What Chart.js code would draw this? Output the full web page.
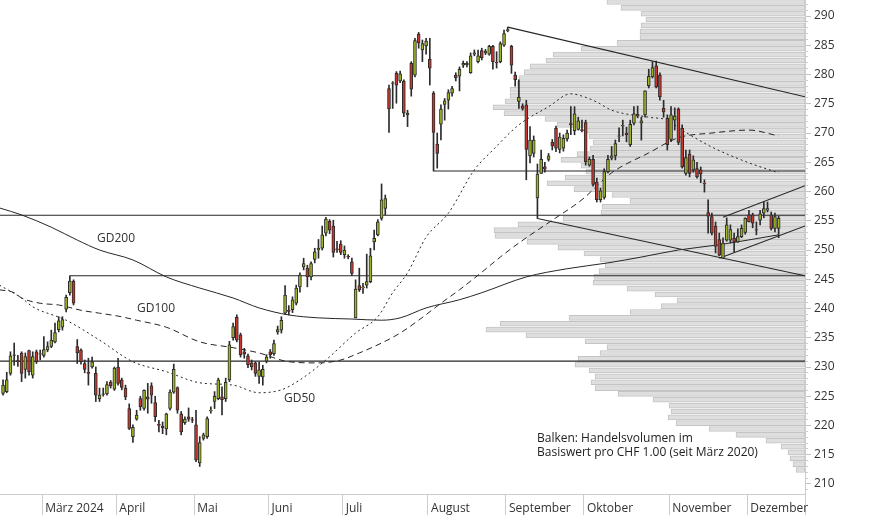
<!DOCTYPE html>
<html><head><meta charset="utf-8">
<script src="https://cdn.jsdelivr.net/npm/chart.js@4.4.1/dist/chart.umd.min.js"></script>
<style>
html,body{margin:0;padding:0;background:#fff;}
#wrap{position:relative;width:874px;height:515px;overflow:hidden;}
#c{position:absolute;left:0;top:0;}
.lbl{position:absolute;font-family:"Open Sans",sans-serif;font-size:12px;color:#333;line-height:14px;white-space:nowrap;}
</style></head><body>
<div id="wrap">
<canvas id="c" width="874" height="515"></canvas>
<div class="lbl" style="left:97px;top:231px">GD200</div>
<div class="lbl" style="left:137px;top:301px">GD100</div>
<div class="lbl" style="left:284px;top:391px">GD50</div>
<div class="lbl" style="left:537px;top:431px;color:#222">Balken: Handelsvolumen im<br>Basiswert pro CHF 1.00 (seit März 2020)</div>
</div>
<script>
// ---- data: trading-day index of first candle (0 = 1 March 2024) ----
const firstIndex = -11;
const opens = [
225.5,225.8,228.9,232.1,231.1,232.4,229.6,232.8,228.6,232.6,
232.2,232.0,232.9,233.5,234.3,236.4,236.8,239.9,242.7,244.7,
233.5,232.9,230.6,229.1,230.0,228.9,224.6,225.4,225.4,227.4,
226.2,230.0,227.8,226.4,222.9,218.1,221.1,224.6,222.9,224.9,
226.8,223.9,220.2,219.9,219.4,222.9,225.7,226.5,222.0,220.5,
221.5,221.0,220.1,213.6,217.8,218.1,222.5,224.1,224.6,224.9,
224.6,227.8,235.0,238.5,235.5,232.6,231.9,230.7,230.7,228.4,
228.3,231.0,232.6,232.3,236.0,236.3,239.2,239.7,239.8,240.9,
243.7,247.1,246.9,245.4,248.4,250.0,250.3,252.9,254.9,254.1,
250.2,251.0,249.2,248.9,248.0,238.4,243.9,243.5,244.0,244.6,
251.4,252.6,255.4,257.1,277.6,278.5,280.2,278.9,278.9,273.1,
281.9,279.9,286.9,284.2,284.9,282.6,276.8,268.1,271.5,274.9,
275.6,276.8,279.9,279.7,281.6,281.9,280.3,283.5,282.2,284.1,
283.7,283.5,284.8,282.1,282.2,285.0,287.5,284.8,279.9,275.4,
274.6,274.8,266.1,266.5,258.9,263.1,264.2,265.5,268.4,270.8,
267.2,267.4,269.0,271.6,270.4,270.6,270.6,271.8,264.5,265.5,
261.6,258.6,259.0,263.4,265.7,266.1,269.4,271.2,270.0,268.0,
271.7,273.2,271.7,273.1,278.1,279.6,281.5,279.9,274.2,272.5,
268.9,272.2,274.1,270.8,263.1,266.4,263.7,263.9,263.7,261.4,
256.4,255.7,254.1,251.8,248.6,251.7,251.7,252.0,251.4,252.3,
253.0,256.0,256.0,253.5,255.1,256.3,256.8,256.0,253.7,253.7];
const highs = [
227.8,229.1,232.6,234.1,232.0,232.6,232.4,232.9,232.6,232.9,
232.9,235.2,234.3,236.3,237.5,238.6,238.6,242.3,245.6,244.9,
234.7,233.1,231.2,231.5,231.7,230.0,226.4,226.4,227.5,227.7,
230.0,231.5,228.1,226.9,223.7,220.1,222.6,225.0,226.1,227.2,
227.3,225.0,220.9,220.6,222.1,226.1,230.5,226.6,222.4,221.5,
223.0,221.4,222.6,218.1,218.7,221.5,223.2,225.8,228.1,226.6,
228.1,234.4,237.5,238.9,235.8,233.2,232.2,231.2,230.9,230.9,
230.3,232.1,233.0,234.6,237.0,238.6,243.9,240.5,242.0,244.0,
246.1,248.6,247.4,248.0,250.3,251.8,254.1,255.6,255.2,255.1,
251.5,251.6,250.7,249.2,248.6,244.9,246.9,244.3,249.3,250.3,
253.4,255.2,261.3,259.4,278.2,278.8,280.5,280.6,279.1,273.9,
282.2,286.2,287.2,285.9,286.2,286.2,277.1,270.0,274.8,275.9,
277.4,278.0,280.3,281.3,282.3,282.2,283.7,284.2,284.2,284.5,
284.3,285.0,285.0,283.9,285.6,287.6,288.1,285.0,280.4,279.1,
275.0,275.6,271.1,269.5,264.7,267.1,265.0,266.5,268.9,271.2,
270.0,269.7,270.5,274.5,274.5,272.7,272.2,272.2,265.9,266.2,
262.3,260.6,263.9,266.2,267.7,268.8,270.9,272.2,271.0,272.2,
274.5,274.6,272.7,277.2,280.9,282.2,282.3,280.3,275.6,273.1,
274.5,274.3,274.3,271.4,267.1,267.1,266.1,265.0,264.2,262.0,
258.6,256.3,254.8,252.9,252.1,255.5,254.3,252.9,253.6,254.3,
255.5,256.8,256.3,254.8,256.8,258.2,258.2,256.5,256.3,255.8];
const lows = [
225.2,225.6,228.6,230.3,230.1,227.5,228.1,228.6,228.1,230.6,
231.2,231.7,232.6,233.3,234.1,236.0,236.3,239.4,242.3,240.6,
230.6,230.5,229.0,226.9,229.8,224.1,224.1,225.0,225.2,226.4,
226.0,226.9,226.1,224.4,219.3,217.1,220.9,222.6,222.6,222.1,
223.8,220.7,218.9,218.6,218.4,222.6,225.5,222.1,218.4,220.2,
220.7,220.5,213.8,213.0,217.5,217.8,222.1,222.9,224.4,221.8,
224.1,227.5,234.6,234.3,231.7,231.5,229.9,229.5,228.4,227.2,
226.9,230.7,231.5,232.0,235.6,235.8,239.0,238.9,239.3,240.6,
242.8,246.6,243.7,244.9,247.8,248.6,250.0,252.4,252.8,248.8,
249.6,249.2,248.6,248.5,245.6,238.4,242.9,242.6,243.5,244.4,
250.0,252.4,255.1,256.0,270.1,274.2,275.1,278.6,272.8,271.1,
276.3,279.6,284.5,282.2,283.5,278.2,263.5,264.0,268.8,272.2,
274.1,276.3,278.9,277.2,281.2,281.3,280.2,283.2,282.0,282.5,
283.4,283.3,280.9,281.1,282.0,284.8,287.3,280.2,278.0,274.2,
273.9,262.0,264.9,265.9,255.4,263.1,263.3,265.2,267.1,266.8,
266.6,266.9,268.6,269.7,269.7,270.5,270.2,264.5,264.3,260.9,
258.2,258.2,258.7,263.2,265.4,265.4,268.5,269.5,268.5,267.7,
271.4,272.6,268.8,272.7,277.7,279.4,277.7,275.6,272.7,267.1,
268.5,270.5,268.0,264.0,262.8,262.5,263.3,262.3,261.5,259.9,
252.9,252.6,249.5,249.0,248.6,251.5,251.2,249.7,251.3,252.1,
252.7,254.8,253.8,252.6,254.3,255.5,256.5,253.4,253.1,252.1];
const closes = [
226.9,227.8,231.9,232.0,230.9,228.9,231.8,229.2,231.8,230.9,
232.3,233.0,233.5,234.6,235.9,237.9,238.1,241.9,244.7,240.9,
232.4,230.9,229.6,228.9,230.9,225.2,225.2,225.3,227.0,226.8,
229.8,227.2,226.5,224.9,219.5,219.7,221.8,223.2,226.0,224.5,
225.2,221.5,220.0,219.6,222.0,225.7,229.6,222.6,218.9,221.1,
221.1,220.9,214.1,217.1,218.4,221.2,222.6,225.0,227.8,224.4,
227.4,233.8,236.9,234.6,232.1,232.2,230.4,230.0,228.9,229.5,
229.6,231.7,232.1,234.0,236.4,238.0,242.3,239.5,241.5,243.5,
245.7,247.7,245.4,247.7,249.7,250.3,252.6,255.3,253.4,249.6,
250.0,249.6,250.0,248.8,246.0,243.3,243.2,243.7,244.6,249.0,
252.0,254.8,258.6,258.8,274.1,278.6,278.2,280.1,273.4,273.4,
277.5,285.8,285.4,285.3,285.7,281.1,270.1,266.5,274.1,275.5,
276.9,277.6,279.4,280.9,281.9,281.7,283.2,283.7,283.2,282.9,
284.0,284.8,282.2,282.0,285.3,287.0,287.7,281.6,279.1,276.1,
274.2,267.2,268.8,268.8,263.0,265.5,263.8,266.1,267.8,267.4,
269.3,269.1,270.0,271.4,273.3,272.1,270.4,265.1,265.5,261.2,
258.6,260.1,263.4,265.5,266.1,268.2,269.5,271.3,269.7,271.5,
273.3,272.9,272.1,277.2,279.7,281.2,277.9,276.2,273.6,268.0,
273.1,272.9,268.4,264.2,265.8,263.1,265.4,262.5,263.0,261.3,
255.8,252.9,250.6,249.1,251.2,254.3,253.5,251.4,252.3,253.7,
255.4,254.8,254.6,253.4,256.2,257.1,257.1,253.7,255.7,255.4];

// moving averages (trading-day index, value)
const gd50Idx = [-12,-6,-3,6,15,24,33,42,51,58,64,69,76,84,90,94,98,103,109,116,121,128,136,142,144,149,153,163,168,172,180,190,198];
const gd50Val = [244.0,241.8,240.3,238.0,234.6,230.9,229.2,227.3,226.9,225.6,226.1,227.8,231.2,235.8,238.6,242.7,246.1,252.2,256.3,263.7,267.1,271.4,274.5,276.7,276.5,275.3,273.9,272.7,272.2,270.5,267.6,264.9,263.2];
const gd100Idx = [-12,-8,-6,-1,4,10,15,20,25,33,42,51,58,66,74,80,85,91,96,101,107,112,118,123,128,137,145,153,163,171,180,190,198];
const gd100Val = [243.2,242.7,241.8,240.9,240.6,239.7,239.2,238.7,238.0,236.8,234.3,233.3,232.4,230.9,230.7,231.2,232.4,234.1,235.8,238.0,240.9,243.2,246.2,248.8,251.2,255.1,258.6,263.2,266.6,269.2,270.0,270.5,269.5];
const gd200Idx = [-12,-6,2,9,15,24,33,42,51,58,66,74,83,91,96,103,112,118,130,141,152,161,171,182,198];
const gd200Val = [257.2,256.0,253.9,251.7,250.0,248.3,245.4,243.5,241.8,240.1,238.9,238.4,238.2,238.0,238.4,240.1,241.5,242.7,245.4,246.8,247.8,248.8,250.0,250.9,252.6];

// horizontal support / resistance levels and the day they start
const levelValues = [255.95, 245.6, 231.0, 263.5];
const levelStart  = [-12, 7, -12, 105];
// trend lines: start day, start value, value at right edge
const trendStart    = [125, 133, 183, 182];
const trendStartVal = [288.1, 255.4, 255.6, 248.6];
const trendEndVal   = [276.2, 245.6, 261.0, 254.1];

// volume profile: price bucket (CHF 1.00) and relative volume
const volLevels = [292,291,290,289,288,287,286,285,284,283,282,281,280,279,278,277,276,275,274,273,272,271,270,269,268,267,266,265,264,263,262,261,260,259,258,257,256,255,254,253,252,251,250,249,248,247,246,245,244,243,242,241,240,239,238,237,236,235,234,233,232,231,230,229,228,227,226,225,224,223,222,221,220,219,218,217,216,215,214,213,212];
const volValues = [198,184,164,159,164,165,165,188,224,252,259,275,281,286,288,295,295,300,312,301,260,248,220,216,212,215,228,244,224,219,240,258,231,193,175,203,204,242,287,311,310,278,247,221,205,200,206,211,212,178,150,128,144,175,236,305,319,279,220,198,205,227,230,216,210,214,210,187,152,136,134,137,129,96,69,39,24,17,15,12,9];

// axis
const monthTickIdx = [-0.5,19.5,40.5,60.5,80.5,103.5,124.5,145.5,168.5,189.5];
const monthLabels = ['März 2024','April','Mai','Juni','Juli','August','September','Oktober','November','Dezember'];
const priceTicks = [210,215,220,225,230,235,240,245,250,255,260,265,270,275,280,285,290];

// ---- chart ----
const X_MIN = -11.82, X_MAX = 205.1, Y_MIN = 208.29, Y_MAX = 292.74, VOL_MAX = 805;
const UP = '#9eb423', DN = '#c8372d', EDGE = '#2b2b2b';
const days = opens.map((_, i) => firstIndex + i);
const bodyColors = opens.map((o, i) => closes[i] >= o ? UP : DN);
const FONT = {family: '"Open Sans", sans-serif', size: 12};

const lineDS = (xs, ys, dash) => ({
  type: 'line', data: xs.map((x, i) => ({x, y: ys[i]})),
  borderColor: '#262626', borderWidth: 1, borderDash: dash, pointRadius: 0,
  fill: false, cubicInterpolationMode: 'monotone', xAxisID: 'x', yAxisID: 'y', order: 5
});
const straight = (x0, y0, x1, y1) => ({
  type: 'line', data: [{x: x0, y: y0}, {x: x1, y: y1}],
  borderColor: '#262626', borderWidth: 1.1, pointRadius: 0, fill: false,
  xAxisID: 'x', yAxisID: 'y', order: 4
});
const noPad = s => { s.paddingTop = 0; s.paddingBottom = 0; s.paddingLeft = 0; s.paddingRight = 0; };

const datasets = [
  {type: 'bar', indexAxis: 'y', xAxisID: 'xv', yAxisID: 'y',
   data: volLevels.map((lv, i) => ({x: volValues[i], y: lv + 0.4})),
   backgroundColor: '#dedede', borderColor: '#c4c4c4', borderWidth: 1,
   borderSkipped: false, barThickness: 5, grouped: false, order: 10},
  lineDS(gd200Idx, gd200Val, []),
  lineDS(gd100Idx, gd100Val, [6, 4]),
  lineDS(gd50Idx, gd50Val, [2, 3]),
  ...levelValues.map((v, i) => straight(levelStart[i], v, X_MAX, v)),
  ...trendStart.map((s, i) => straight(s, trendStartVal[i], X_MAX, trendEndVal[i])),
  {type: 'bar', xAxisID: 'x', yAxisID: 'y',
   data: days.map((d, i) => ({x: d, y: [lows[i], highs[i]]})),
   backgroundColor: EDGE, borderWidth: 0, barThickness: 1, grouped: false, order: 2},
  {type: 'bar', xAxisID: 'x', yAxisID: 'y',
   data: days.map((d, i) => ({x: d, y: [opens[i], closes[i]]})),
   backgroundColor: bodyColors, borderColor: EDGE, borderWidth: 1,
   borderSkipped: false, barThickness: 3, grouped: false, order: 1}
];

new Chart(document.getElementById('c'), {
  type: 'bar',
  data: {datasets},
  options: {
    responsive: false, animation: false, devicePixelRatio: 1,
    layout: {padding: 0},
    plugins: {legend: {display: false}, tooltip: {enabled: false}},
    scales: {
      x: {type: 'linear', position: 'bottom', min: X_MIN, max: X_MAX, offset: false,
          afterBuildTicks: s => { s.ticks = monthTickIdx.concat([X_MAX]).map(v => ({value: v})); },
          afterFit: s => { s.height = 21; noPad(s); },
          ticks: {autoSkip: false, maxRotation: 0, minRotation: 0, align: 'start', padding: -14,
                  color: '#333', font: FONT,
                  callback: (v, i) => i < monthLabels.length ? ' ' + monthLabels[i] : ''},
          grid: {drawOnChartArea: false, drawTicks: true, tickLength: 21, color: '#cccccc', offset: false},
          border: {display: true, color: '#cccccc'}},
      xv: {type: 'linear', axis: 'x', display: false, min: 0, max: VOL_MAX, reverse: true, offset: false},
      ym: {type: 'linear', position: 'right', weight: 0, min: Y_MIN, max: Y_MAX, offset: false,
           afterBuildTicks: s => { const t = []; for (let v = 209; v <= 292; v++) t.push({value: v}); s.ticks = t; },
           afterFit: s => { s.width = 0; noPad(s); },
           ticks: {display: false},
           grid: {drawOnChartArea: false, drawTicks: true, tickLength: 3, color: '#cccccc', offset: false},
           border: {display: false}},
      y: {type: 'linear', position: 'right', weight: 1, min: Y_MIN, max: Y_MAX, offset: false, beginAtZero: false,
          afterBuildTicks: s => { s.ticks = priceTicks.map(v => ({value: v})); },
          afterFit: s => { s.width = 69; noPad(s); },
          ticks: {autoSkip: false, padding: 3, color: '#333', font: FONT, callback: v => String(v)},
          grid: {drawOnChartArea: false, drawTicks: true, tickLength: 6, color: '#c4c4c4', offset: false},
          border: {display: true, color: '#cccccc'}}
    }
  }
});
</script>
</body></html>
